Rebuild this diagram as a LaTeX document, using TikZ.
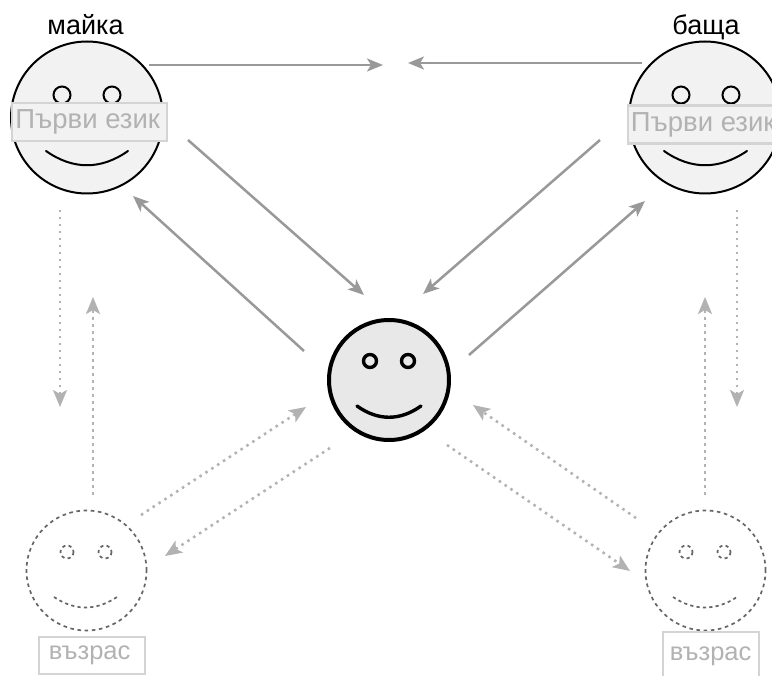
\documentclass[tikz,border=0pt]{standalone}
\usepackage{fontspec}
\setmainfont{Liberation Sans}
\usetikzlibrary{arrows.meta}
\tikzset{
  x=1pt,y=-1pt,
  facemain/.style={circle,draw=black,fill=#1,inner sep=0pt,outer sep=0pt,line width=2pt},
  facedash/.style={circle,draw=black!60,fill=none,inner sep=0pt,outer sep=0pt,line width=1.7pt,dash pattern=on 3.6pt off 3.6pt},
  featmain/.style={draw=black,line width=2pt,line cap=round},
  featbold/.style={draw=black,line width=3.4pt,line cap=round},
  featdash/.style={draw=black!60,line width=1.7pt,dash pattern=on 3.2pt off 3.2pt},
  namelabel/.style={font=\fontsize{27}{27}\selectfont,text=black,inner sep=0pt},
  greybox/.style={draw=black!17,fill=#1,line width=2.4pt,text=black!30,inner sep=0pt,anchor=north west},
  bigtext/.style={font=\fontsize{27.5}{27.5}\selectfont},
  smalltext/.style={font=\fontsize{25.5}{25.5}\selectfont},
  solidarrow/.style={draw=black!40,line width=2.5pt,-{Stealth[length=16pt,width=13pt,inset=4pt]}},
  dotarrow/.style={draw=black!30,line width=2.5pt,dash pattern=on 2.5pt off 4.5pt,-{Stealth[length=17pt,width=14pt,inset=4pt]}},
}
\begin{document}
\begin{tikzpicture}
\clip (0,0) rectangle (772,676);
\fill[white] (0,0) rectangle (772,676);
% mother
\node[facemain=black!5,minimum size=152pt] (mother) at (87,117.5) {};
\draw[featmain] (62,95) circle[radius=8.5];
\draw[featmain] (112,95) circle[radius=8.5];
\draw[featmain] (46,151) .. controls (73,170) and (101,170) .. (128,151);
\node[namelabel] (mothername) at (85.5,25) {майка};
\node[greybox=black!5,bigtext,minimum width=155pt,minimum height=38pt] (motherbox) at (10.5,102) {Първи език\hspace*{3pt}};
% father
\node[facemain=black!5,minimum size=152pt] (father) at (705,117.5) {};
\draw[featmain] (681,95) circle[radius=8.5];
\draw[featmain] (731,95) circle[radius=8.5];
\draw[featmain] (664,151) .. controls (691,170) and (719,170) .. (747,151);
\node[namelabel] (fathername) at (706,27) {баща};
\node[greybox=black!5,bigtext,minimum width=150pt,minimum height=38pt] (fatherbox) at (627,104.5) {Първи език};
% child
\node[facemain=black!9,line width=4pt,minimum size=120pt] (child) at (389,380) {};
\draw[featbold] (370,361) circle[radius=6.5];
\draw[featbold] (408,361) circle[radius=6.5];
\draw[featbold] (357,406) .. controls (378,421) and (400,421) .. (421,406);
% left peer
\node[facedash,minimum size=120pt] (peerl) at (86.5,570.5) {};
\draw[featdash] (67,552) circle[radius=6.5];
\draw[featdash] (105,552) circle[radius=6.5];
\draw[featdash] (54,597) .. controls (75,611) and (96,611) .. (117,597);
\node[greybox=white,smalltext,minimum width=106pt,minimum height=37pt] (peerlbox) at (37.5,635.5) {\raisebox{-3pt}{възрас}\hspace*{4pt}};
% right peer
\node[facedash,minimum size=120pt] (peerr) at (705.5,570.5) {};
\draw[featdash] (686,552) circle[radius=6.5];
\draw[featdash] (724,552) circle[radius=6.5];
\draw[featdash] (673,597) .. controls (694,611) and (716,611) .. (737,597);
\node[greybox=white,smalltext,minimum width=96pt,minimum height=50pt] (peerrbox) at (661.5,630.5) {\raisebox{5pt}{възрас}};
% connector ends
\coordinate (a1) at (149,65);  \coordinate (a2) at (383,65);
\coordinate (b1) at (642,63);  \coordinate (b2) at (408,63);
\coordinate (c1) at (188,140); \coordinate (c2) at (364,295);
\coordinate (d1) at (304,351); \coordinate (d2) at (133,196);
\coordinate (e1) at (600,140); \coordinate (e2) at (423,294);
\coordinate (f1) at (469,355); \coordinate (f2) at (645,201);
\coordinate (g1) at (60,210);  \coordinate (g2) at (60,407);
\coordinate (h1) at (93,495);  \coordinate (h2) at (93,297);
\coordinate (i1) at (737,210); \coordinate (i2) at (737,407);
\coordinate (j1) at (705,495); \coordinate (j2) at (705,297);
\coordinate (k1) at (141,515); \coordinate (k2) at (306,407);
\coordinate (l1) at (330,448); \coordinate (l2) at (165,556);
\coordinate (m1) at (636,518); \coordinate (m2) at (473,405);
\coordinate (n1) at (447,445); \coordinate (n2) at (630,571);
\foreach \s/\t in {a1/a2,b1/b2,c1/c2,d1/d2,e1/e2,f1/f2}
  \draw[solidarrow] (\s) -- (\t);
\foreach \s/\t in {g1/g2,h1/h2,i1/i2,j1/j2,k1/k2,l1/l2,m1/m2,n1/n2}
  \draw[dotarrow] (\s) -- (\t);
\end{tikzpicture}
\end{document}
